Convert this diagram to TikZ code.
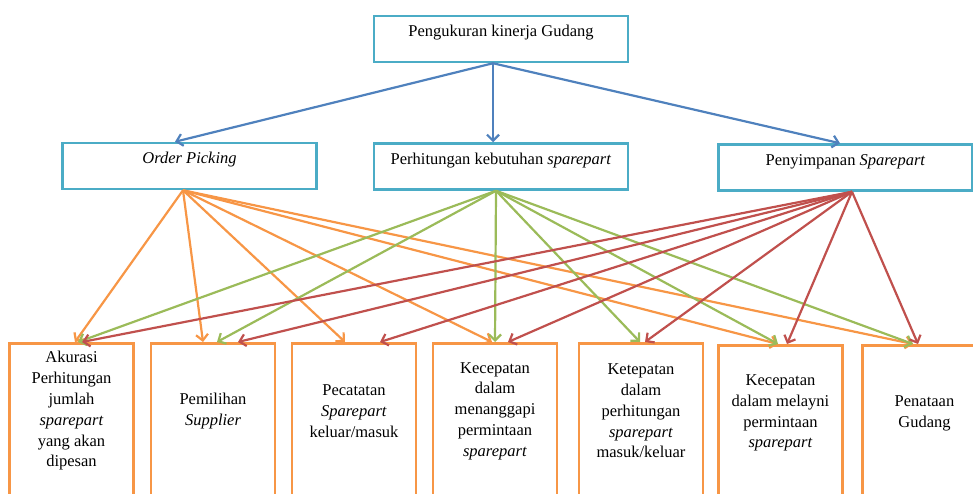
\documentclass[tikz,border=0pt]{standalone}
\usepackage{fontspec}
\setmainfont{Liberation Serif}
\usetikzlibrary{arrows.meta}
\definecolor{kotakbiru}{HTML}{4BACC6}
\definecolor{panahbiru}{HTML}{4F81BD}
\definecolor{oranye}{HTML}{F79646}
\definecolor{hijau}{HTML}{9BBB59}
\definecolor{merah}{HTML}{C0504D}
\tikzset{
  kotak/.style={draw=kotakbiru, line width=2.5pt, minimum width=254pt, minimum height=46pt,
    text height=12pt, text depth=17pt, font=\fontsize{16.5}{20.8}\selectfont},
  ukuran/.style={draw=oranye, line width=2.5pt, minimum width=124pt, minimum height=160pt, anchor=north},
  isi/.style={align=center, font=\fontsize{16.5}{20.8}\selectfont},
  panah/.style={line width=2.2pt, -{Straight Barb[length=6pt,width=12pt]}}
}
\begin{document}
\begin{tikzpicture}[x=1pt, y=-1pt]
	    \useasboundingbox (0,0) rectangle (973,493);

	    % Kotak utama dan tiga aspek
	    \node[kotak] (top) at (501,39) {Pengukuran kinerja Gudang};
	    \node[kotak] (op) at (189.5,166) {\textit{Order Picking}};
	    \node[kotak] (hit) at (501,166.5) {Perhitungan kebutuhan \textit{sparepart}};
	    \node[kotak] (simpan) at (845.5,167.5) {Penyimpanan \textit{Sparepart}};

	    % Kotak indikator
	    \node[ukuran] (b1) at (71.5,342) {};
	    \node[ukuran] (b2) at (213,342) {};
	    \node[ukuran] (b3) at (354,342) {};
	    \node[ukuran] (b4) at (495,342) {};
	    \node[ukuran] (b5) at (641,342) {};
	    \node[ukuran] (b6) at (780.5,344) {};
	    \node[ukuran] (b7) at (924.5,344) {};

	    \node[isi] (t1) at ([yshift=-69pt]b1.north) {Akurasi\\Perhitungan\\jumlah\\\textit{sparepart}\\yang akan\\dipesan};
	    \node[isi] (t2) at ([yshift=-69pt]b2.north) {Pemilihan\\\textit{Supplier}};
	    \node[isi] (t3) at ([yshift=-69pt]b3.north) {Pecatatan\\\textit{Sparepart}\\keluar/masuk};
	    \node[isi] (t4) at ([yshift=-69pt]b4.north) {Kecepatan\\dalam\\menanggapi\\permintaan\\\textit{sparepart}};
	    \node[isi] (t5) at ([yshift=-69pt]b5.north) {Ketepatan\\dalam\\perhitungan\\\textit{sparepart}\\masuk/keluar};
	    \node[isi] (t6) at ([yshift=-69pt]b6.north) {Kecepatan\\dalam melayni\\permintaan\\\textit{sparepart}};
	    \node[isi] (t7) at ([yshift=-69pt]b7.north) {Penataan\\Gudang};

	    % Panah biru dari kotak utama
	    \draw[panah, panahbiru] ([xshift=-8pt]top.south) -- ([xshift=-14.5pt]op.north);
	    \draw[panah, panahbiru] ([xshift=-8pt]top.south) -- ([xshift=-8pt]hit.north);
	    \draw[panah, panahbiru] ([xshift=-8pt]top.south) -- ([xshift=-5.5pt]simpan.north);

	    % Panah oranye dari Order Picking
	    \draw[panah, oranye] ([xshift=-6.5pt]op.south) -- ([xshift=3.5pt]b1.north);
	    \draw[panah, oranye] ([xshift=-6.5pt]op.south) -- ([xshift=-10pt]b2.north);
	    \draw[panah, oranye] ([xshift=-6.5pt]op.south) -- ([xshift=-9pt]b3.north);
	    \draw[panah, oranye] ([xshift=-6.5pt]op.south) -- ([xshift=-3pt]b4.north);
	    \draw[panah, oranye] ([xshift=-6.5pt]op.south) -- ([xshift=-2.5pt]b6.north);
	    \draw[panah, oranye] ([xshift=-6.5pt]op.south) -- ([xshift=-11.5pt]b7.north);

	    % Panah hijau dari Perhitungan kebutuhan
	    \draw[panah, hijau] ([xshift=-5pt]hit.south) -- ([xshift=6.5pt]b1.north);
	    \draw[panah, hijau] ([xshift=-5pt]hit.south) -- ([xshift=4pt]b2.north);
	    \draw[panah, hijau] ([xshift=-5pt]hit.south) -- (b4.north);
	    \draw[panah, hijau] ([xshift=-5pt]hit.south) -- ([xshift=-1pt]b5.north);
	    \draw[panah, hijau] ([xshift=-5pt]hit.south) -- ([xshift=-2.5pt]b6.north);
	    \draw[panah, hijau] ([xshift=-5pt]hit.south) -- ([xshift=-11.5pt]b7.north);

	    % Panah merah dari Penyimpanan
	    \draw[panah, merah] ([xshift=6.5pt]simpan.south) -- ([xshift=10.5pt]b1.north);
	    \draw[panah, merah] ([xshift=6.5pt]simpan.south) -- ([xshift=25pt]b2.north);
	    \draw[panah, merah] ([xshift=6.5pt]simpan.south) -- ([xshift=26pt]b3.north);
	    \draw[panah, merah] ([xshift=6.5pt]simpan.south) -- ([xshift=13pt]b4.north);
	    \draw[panah, merah] ([xshift=6.5pt]simpan.south) -- ([xshift=4pt]b5.north);
	    \draw[panah, merah] ([xshift=6.5pt]simpan.south) -- ([xshift=6.5pt]b6.north);
	    \draw[panah, merah] ([xshift=6.5pt]simpan.south) -- ([xshift=-6.5pt]b7.north);
\end{tikzpicture}
\end{document}
